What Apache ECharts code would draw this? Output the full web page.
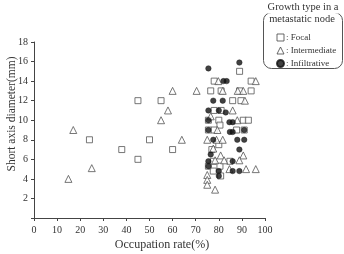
<!DOCTYPE html>
<html><head><meta charset="utf-8">
<script src="https://cdn.jsdelivr.net/npm/echarts@6/dist/echarts.min.js"></script>
<style>html,body{margin:0;padding:0;background:#fff}#c{width:344px;height:254px}</style>
</head><body><div id="c"></div>
<script>
const xTicks=[0,10,20,30,40,50,60,70,80,90,100];
const yTicks=[2,4,6,8,10,12,14,16,18];
const xTitle='Occupation rate(%)';
const yTitle='Short axis diameter(mm)';
const focal=[[45,12],[55,12],[24,8],[38,7],[50,8],[45,6],[60,7],[89,15],[78,14],[94,14],[76.5,13],[81,13],[89,13],[94,13],[86,12],[89.6,12],[81,11],[78,11],[75.5,10],[80,10],[80.5,9.5],[90.6,10],[92.8,10],[75.5,9],[78,9],[87.7,9],[91,9],[77,7],[80,7.5],[75.5,5.3],[77.6,5.8],[77.6,4.8],[80.5,5.3],[84.8,5.8],[80.8,4.3]];
const intermediate=[[17,9],[25,5.1],[14.9,4],[60,13],[70.4,13],[58,11],[55,10],[64,8],[79.8,14],[96,14],[81.7,13],[88.2,13],[90.6,13],[91.3,12],[76.5,10.4],[86,11],[88,10],[75,8],[79,8],[81.7,8],[80.8,6.4],[90.6,6.4],[82.3,5.9],[88.9,5.9],[84.6,5],[91.8,5],[96,5],[75,4.4],[75,3.9],[75,3.4],[78.4,2.9],[78.4,5.9],[79.4,9],[77.6,7.1]];
const infiltrative=[[75.5,15.3],[88.9,15.9],[82,14],[83.4,14],[77.6,12],[81.7,12],[75.5,11],[80,11],[83,10.8],[75.5,10],[84.6,9.8],[86,9.8],[75.5,9],[84.8,8.8],[86,8.8],[91,9],[77.6,8],[88,8],[91,8],[76.5,6.5],[88.9,7],[75.5,5.8],[75.5,5.3],[86,5.8],[80,4.8],[80,4.3],[86,4.8],[88.9,4.8]];
const ff='Liberation Serif';
const chart=echarts.init(document.getElementById('c'));
chart.setOption({
  animation:false,
  grid:{left:34,right:79,top:42,bottom:36,containLabel:false,outerBoundsMode:'none'},
  xAxis:{type:'value',min:0,max:100,interval:10,
    axisLine:{lineStyle:{color:'#444'}},axisTick:{length:3,lineStyle:{color:'#444'}},
    axisLabel:{fontFamily:ff,fontSize:10,color:'#333',margin:7},splitLine:{show:false}},
  yAxis:{type:'value',min:0,max:18,interval:2,
    axisLine:{show:true,lineStyle:{color:'#444'}},axisTick:{show:true,length:3,lineStyle:{color:'#444'}},
    axisLabel:{fontFamily:ff,fontSize:10,color:'#333',margin:6,
      formatter:v=>yTicks.indexOf(v)>=0?String(v):''},splitLine:{show:false}},
  legend:{orient:'vertical',left:271,top:28,itemGap:4,itemWidth:7,itemHeight:7,
    textStyle:{fontFamily:ff,fontSize:9,color:'#333',padding:[0,0,0,-3]},
    data:[
      {name:'Focal',itemStyle:{color:'#fff',borderColor:'#444',borderWidth:1}},
      {name:'Intermediate',itemStyle:{color:'#fff',borderColor:'#444',borderWidth:1}},
      {name:'Infiltrative',itemStyle:{color:'#111'}}],
    formatter:n=>': '+n},
  graphic:[
    {type:'text',x:162,y:245,style:{text:xTitle,fontFamily:ff,fontSize:12,fill:'#333',align:'center',verticalAlign:'middle'}},
    {type:'text',x:12,y:114,rotation:Math.PI/2,style:{text:yTitle,fontFamily:ff,fontSize:11.5,fill:'#333',align:'center',verticalAlign:'middle'}},
    {type:'rect',shape:{x:263.5,y:12.5,width:79,height:56,r:8},style:{fill:'none',stroke:'#555',lineWidth:1},z:1},
    {type:'text',x:303,y:7,style:{text:'Growth type in a',fontFamily:ff,fontSize:10.5,fill:'#333',align:'center',verticalAlign:'middle',backgroundColor:'#fff',padding:[1,2]},z:2},
    {type:'text',x:302,y:19,style:{text:'metastatic node',fontFamily:ff,fontSize:10.5,fill:'#333',align:'center',verticalAlign:'middle'},z:2}
  ],
  series:[
    {name:'Focal',type:'scatter',symbol:'rect',symbolSize:6,data:focal,
      itemStyle:{color:'#fff',borderColor:'#555',borderWidth:1}},
    {name:'Intermediate',type:'scatter',symbol:'triangle',symbolSize:7,data:intermediate,
      itemStyle:{color:'#fff',borderColor:'#555',borderWidth:1}},
    {name:'Infiltrative',type:'scatter',symbol:'circle',symbolSize:5.5,data:infiltrative,
      itemStyle:{color:'#111',borderColor:'#111',borderWidth:0.5}}
  ]
});
</script></body></html>
